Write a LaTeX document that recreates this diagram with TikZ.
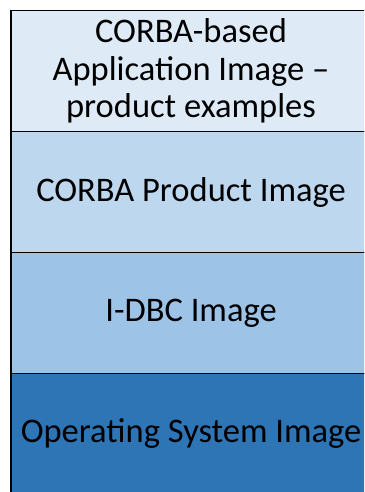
\documentclass[tikz,border=0pt]{standalone}
\usepackage{fontspec}
\setmainfont{Carlito}
\usepackage{xcolor}
\usepackage{tikz}
\usetikzlibrary{positioning}

\definecolor{appfill}{HTML}{DEEBF7}
\definecolor{corbafill}{HTML}{BDD7EE}
\definecolor{idbcfill}{HTML}{9DC3E6}
\definecolor{osfill}{HTML}{2E75B6}

\begin{document}
\begin{tikzpicture}[
    x=1pt, y=1pt,
    node distance=0pt,
    layer/.style={rectangle, draw=black, line width=1.6pt, outer sep=0pt, inner sep=0pt,
        minimum width=360pt, minimum height=121pt, align=center,
        font=\fontsize{34.5}{37.5}\selectfont}
]
    \useasboundingbox (0,0) rectangle (364,-492);
    \clip (0,0) rectangle (364,-492);

    \node[layer, fill=appfill, anchor=north west] (app) at (11,-10.5) {CORBA-based\\Application Image --\\product examples};
    \node[layer, fill=corbafill, below=of app] (corba) {CORBA Product Image};
    \node[layer, fill=idbcfill, below=of corba] (idbc) {I-DBC Image};
    \node[layer, fill=osfill, below=of idbc] (os) {Operating System Image};
\end{tikzpicture}
\end{document}
